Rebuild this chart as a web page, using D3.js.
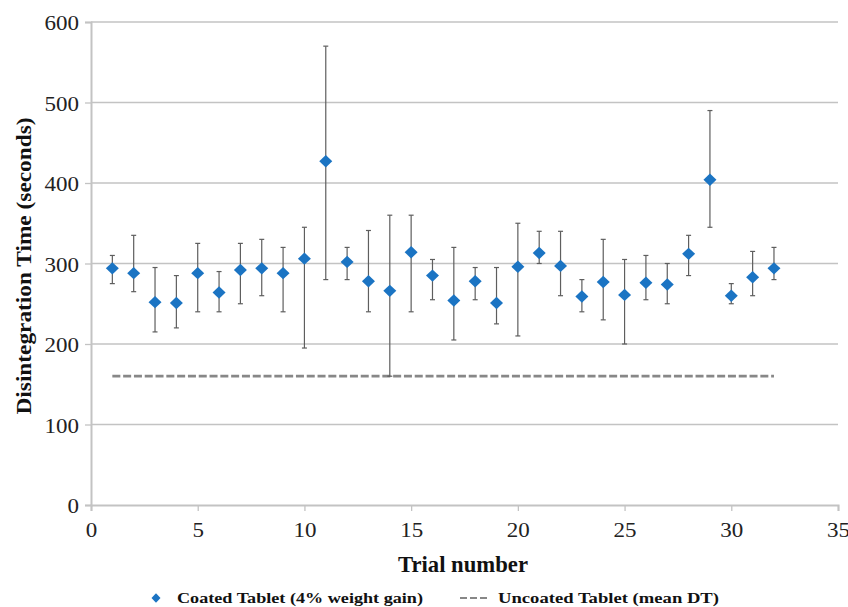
<!DOCTYPE html>
<html><head><meta charset="utf-8">
<script src="https://cdn.jsdelivr.net/npm/d3@7"></script>
<style>body{margin:0;background:#fff}svg{display:block}</style>
</head><body>
<svg id="c" width="848" height="607"></svg>
<script>
const trials = d3.range(1, 33);
const means = [294,288,252,251,288,264,292,294,288,306,427,302,278,266,314,285,254,278,251,296,313,297,259,277,261,276,274,312,404,260,283,294];
const upper = [310,335,295,285,325,290,325,330,320,345,570,320,341,360,360,305,320,295,295,350,340,340,280,330,305,310,300,335,490,275,315,320];
const lower = [275,265,215,220,240,240,250,260,240,195,280,280,240,160,240,255,205,255,225,210,300,260,240,230,200,255,250,285,345,250,260,280];
const uncoatedMean = 160;
const uncoatedRange = [1, 32];
const xTicks = [0,5,10,15,20,25,30,35];
const yTicks = [0,100,200,300,400,500,600];
const seriesNames = ["Coated Tablet (4% weight gain)", "Uncoated Tablet (mean DT)"];

const svg = d3.select("#c");
const font = "'Liberation Serif','Times New Roman',serif";
const x = d3.scaleLinear().domain([0,35]).range([91,838]);
const y = d3.scaleLinear().domain([0,600]).range([505,22]);

// widen text horizontally (reference is slightly stretched)
function stretch(sel, factor) {
  sel.each(function() {
    const w = this.getComputedTextLength();
    d3.select(this).attr("textLength", w * factor).attr("lengthAdjust", "spacingAndGlyphs");
  });
}
function fitWidth(sel, target) {
  sel.attr("textLength", target).attr("lengthAdjust", "spacingAndGlyphs");
}

// gridlines
svg.append("g").selectAll("line").data(yTicks.filter(d=>d>0)).join("line")
  .attr("x1", x(0)).attr("x2", x(35)).attr("y1", d=>y(d)).attr("y2", d=>y(d))
  .attr("stroke", "#c3c3c3").attr("stroke-width", 1.3);

// y axis
const ya = svg.append("g").attr("transform", `translate(${x(0)},0)`)
  .call(d3.axisLeft(y).tickValues(yTicks).tickSize(6).tickPadding(6));
ya.attr("font-family", null).attr("font-size", null);
ya.select(".domain").attr("stroke", "#c3c3c3").attr("stroke-width", 2);
ya.selectAll(".tick line").attr("stroke", "#c3c3c3").attr("stroke-width", 1.3);
ya.selectAll("text").style("font-family", font).style("font-size", "20px").attr("fill", "#222").attr("dy", "0.38em");
stretch(ya.selectAll("text"), 1.15);

// x axis
const xa = svg.append("g").attr("transform", `translate(0,${y(0)})`)
  .call(d3.axisBottom(x).tickValues(xTicks).tickSize(6).tickPadding(12));
xa.attr("font-family", null).attr("font-size", null);
xa.select(".domain").attr("stroke", "#c3c3c3").attr("stroke-width", 2);
xa.selectAll(".tick line").attr("stroke", "#c3c3c3").attr("stroke-width", 1.3);
xa.selectAll("text").style("font-family", font).style("font-size", "20px").attr("fill", "#222");
stretch(xa.selectAll("text"), 1.15);

// uncoated dashed line
svg.append("line")
  .attr("x1", x(uncoatedRange[0])).attr("x2", x(uncoatedRange[1]))
  .attr("y1", y(uncoatedMean)).attr("y2", y(uncoatedMean))
  .attr("stroke", "#878787").attr("stroke-width", 2.8).attr("stroke-dasharray", "8,2.8");

// error bars
const data = trials.map((t,i)=>({t, m:means[i], hi:upper[i], lo:lower[i]}));
const eb = svg.append("g").attr("stroke", "#5e5e5e").attr("stroke-width", 1.2);
eb.selectAll(".v").data(data).join("line").attr("class","v")
  .attr("x1", d=>x(d.t)).attr("x2", d=>x(d.t)).attr("y1", d=>y(d.hi)).attr("y2", d=>y(d.lo));
eb.selectAll(".ct").data(data).join("line").attr("class","ct")
  .attr("x1", d=>x(d.t)-2.5).attr("x2", d=>x(d.t)+2.5).attr("y1", d=>y(d.hi)).attr("y2", d=>y(d.hi));
eb.selectAll(".cb").data(data).join("line").attr("class","cb")
  .attr("x1", d=>x(d.t)-2.5).attr("x2", d=>x(d.t)+2.5).attr("y1", d=>y(d.lo)).attr("y2", d=>y(d.lo));

// diamonds
const dia = (cx, cy, rx, ry) => `M${cx},${cy-ry}L${cx+rx},${cy}L${cx},${cy+ry}L${cx-rx},${cy}Z`;
svg.append("g").selectAll("path").data(data).join("path")
  .attr("d", d=>dia(x(d.t), y(d.m), 6.5, 6.2)).attr("fill", "#1b74c3");

// axis titles
svg.append("text").attr("transform", `translate(31,266) rotate(-90)`)
  .attr("text-anchor","middle").style("font-family", font).attr("font-weight","bold")
  .style("font-size", "21px").attr("fill", "#111").text("Disintegration Time (seconds)")
  .call(fitWidth, 297);
svg.append("text").attr("x", 463).attr("y", 572)
  .attr("text-anchor","middle").style("font-family", font).attr("font-weight","bold")
  .style("font-size", "22.5px").attr("fill", "#111").text("Trial number")
  .call(fitWidth, 130);

// legend
const lg = svg.append("g").attr("font-weight","bold").attr("fill","#111");
lg.append("path").attr("d", dia(156, 598, 4.5, 4.8)).attr("fill", "#1b74c3");
lg.append("text").attr("x", 177).attr("y", 603).style("font-family", font).style("font-size", "15px")
  .text(seriesNames[0]).call(fitWidth, 246);
lg.append("line").attr("x1", 460).attr("x2", 487).attr("y1", 598).attr("y2", 598)
  .attr("stroke", "#878787").attr("stroke-width", 2.2).attr("stroke-dasharray", "7,3");
lg.append("text").attr("x", 498).attr("y", 603).style("font-family", font).style("font-size", "15px")
  .text(seriesNames[1]).call(fitWidth, 221);
</script>
</body></html>
